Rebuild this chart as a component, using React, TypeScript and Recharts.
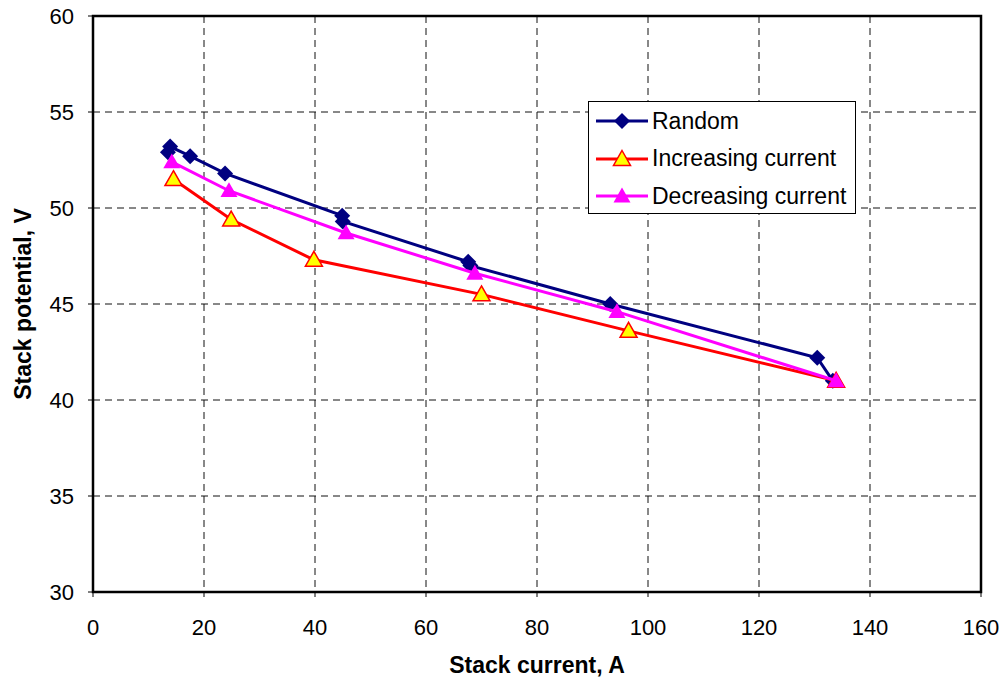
import React from "react";
import {
  ScatterChart,
  Scatter,
  XAxis,
  YAxis,
  CartesianGrid,
  ReferenceArea,
} from "recharts";

const xTicks = [0, 20, 40, 60, 80, 100, 120, 140, 160];
const yTicks = [30, 35, 40, 45, 50, 55, 60];

// stack current (A) / stack potential (V)
const randomCurrent = [13.5, 13.9, 17.5, 23.8, 44.9, 45.0, 67.6, 68.0, 93.2, 130.5, 133.3];
const randomPotential = [52.9, 53.2, 52.7, 51.8, 49.6, 49.3, 47.2, 47.0, 45.0, 42.2, 41.0];

const increasingCurrent = [14.5, 24.9, 39.8, 70.0, 96.5, 133.9];
const increasingPotential = [51.5, 49.4, 47.3, 45.5, 43.6, 41.0];

const decreasingCurrent = [14.2, 24.5, 45.6, 68.8, 94.4, 133.9];
const decreasingPotential = [52.4, 50.9, 48.7, 46.6, 44.6, 41.0];

const toPoints = (xs: number[], ys: number[]) => xs.map((x, i) => ({ x, y: ys[i] }));

const randomData = toPoints(randomCurrent, randomPotential);
const increasingData = toPoints(increasingCurrent, increasingPotential);
const decreasingData = toPoints(decreasingCurrent, decreasingPotential);

const FONT = "'Liberation Sans', Arial, sans-serif";

const Diamond = (props: any) => {
  const { cx, cy, fill } = props;
  const r = 8;
  return <polygon points={`${cx},${cy - r} ${cx + r},${cy} ${cx},${cy + r} ${cx - r},${cy}`} fill={fill} />;
};

const Triangle = (props: any) => {
  const { cx, cy, fill, stroke } = props;
  const r = 8.5;
  return (
    <polygon
      points={`${cx},${cy - r} ${cx + r},${cy + r * 0.75} ${cx - r},${cy + r * 0.75}`}
      fill={fill}
      stroke={stroke}
      strokeWidth={stroke ? 1.5 : 0}
    />
  );
};

const legendItems = [
  { name: "Random", line: "#000080", marker: "diamond", fill: "#000080", stroke: "" },
  { name: "Increasing current", line: "#ff0000", marker: "triangle", fill: "#ffff00", stroke: "#ff0000" },
  { name: "Decreasing current", line: "#ff00ff", marker: "triangle", fill: "#ff00ff", stroke: "" },
];

function LegendBox() {
  return (
    <div
      style={{
        position: "absolute",
        left: 588,
        top: 101,
        width: 266,
        height: 111,
        border: "1px solid #000",
        background: "#fff",
        fontFamily: FONT,
        fontSize: 23,
        boxSizing: "content-box",
      }}
    >
      {legendItems.map((item, i) => (
        <div
          key={item.name}
          style={{ position: "absolute", left: 5, top: 5 + i * 37.5, height: 28, display: "flex", alignItems: "center" }}
        >
          <svg width={56} height={28}>
            <line x1={2} y1={14} x2={54} y2={14} stroke={item.line} strokeWidth={3} />
            {item.marker === "diamond" ? (
              <Diamond cx={28} cy={14} fill={item.fill} />
            ) : (
              <Triangle cx={28} cy={14} fill={item.fill} stroke={item.stroke} />
            )}
          </svg>
          <span style={{ marginLeft: 2, whiteSpace: "nowrap" }}>{item.name}</span>
        </div>
      ))}
    </div>
  );
}

export default function App() {
  return (
    <div style={{ position: "absolute", left: 0, top: 0, width: 1004, height: 682, background: "#fff" }}>
      <ScatterChart
        width={1004}
        height={682}
        margin={{ top: 16, right: 23, left: 0, bottom: 0 }}
        style={{ fontFamily: FONT }}
      >
        <CartesianGrid stroke="#111" strokeDasharray="7 5" strokeWidth={1} />
        <XAxis
          type="number"
          dataKey="x"
          domain={[0, 160]}
          ticks={xTicks}
          height={90}
          tickSize={5}
          tickMargin={22}
          tick={{ fill: "#000", fontSize: 22 }}
          axisLine={{ stroke: "#000", strokeWidth: 2 }}
          tickLine={{ stroke: "#000" }}
          label={{
            value: "Stack current, A",
            position: "center",
            dy: 28,
            style: { fontWeight: "bold", fontSize: 23, fill: "#000" },
          }}
        />
        <YAxis
          type="number"
          dataKey="y"
          domain={[30, 60]}
          ticks={yTicks}
          width={93}
          tickSize={5}
          tickMargin={14}
          tick={{ fill: "#000", fontSize: 22 }}
          axisLine={{ stroke: "#000", strokeWidth: 2 }}
          tickLine={{ stroke: "#000" }}
          label={{
            value: "Stack potential, V",
            angle: -90,
            position: "center",
            dx: -24,
            style: { fontWeight: "bold", fontSize: 23, fill: "#000", textAnchor: "middle" },
          }}
        />
        <ReferenceArea x1={0} x2={160} y1={30} y2={60} fill="none" stroke="#000" strokeWidth={2.5} fillOpacity={0} />
        <Scatter
          name="Random"
          data={randomData}
          fill="#000080"
          line={{ stroke: "#000080", strokeWidth: 3 }}
          shape={<Diamond />}
          isAnimationActive={false}
        />
        <Scatter
          name="Increasing current"
          data={increasingData}
          fill="#ffff00"
          line={{ stroke: "#ff0000", strokeWidth: 3 }}
          shape={<Triangle stroke="#ff0000" />}
          isAnimationActive={false}
        />
        <Scatter
          name="Decreasing current"
          data={decreasingData}
          fill="#ff00ff"
          line={{ stroke: "#ff00ff", strokeWidth: 3 }}
          shape={<Triangle />}
          isAnimationActive={false}
        />
      </ScatterChart>
      <LegendBox />
    </div>
  );
}
